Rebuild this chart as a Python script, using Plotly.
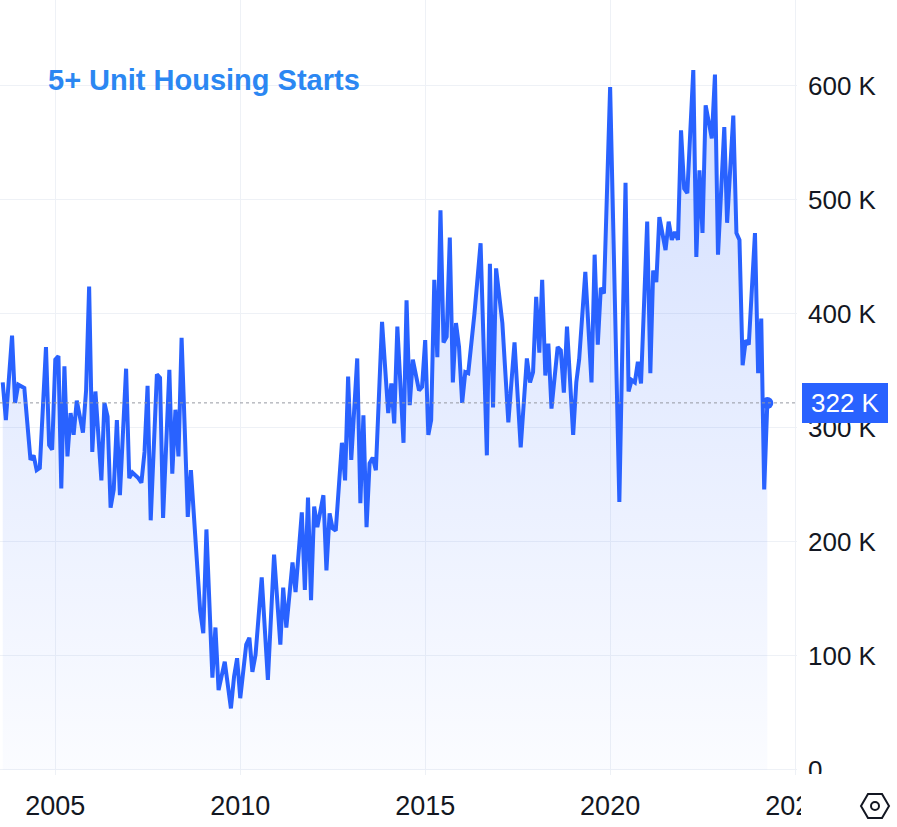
import plotly.graph_objects as go

# ---- data (thousands of units, SAAR) ----
dates = [
    "2003-08", "2003-09", "2003-11", "2003-12", "2004-01", "2004-03", "2004-05", "2004-06",
    "2004-07", "2004-08", "2004-10", "2004-11", "2004-12", "2005-01", "2005-02", "2005-03",
    "2005-04", "2005-05", "2005-06", "2005-07", "2005-08", "2005-10", "2005-11", "2005-12",
    "2006-01", "2006-02", "2006-04", "2006-05", "2006-06", "2006-07", "2006-08", "2006-09",
    "2006-10", "2006-12", "2007-01", "2007-02", "2007-04", "2007-05", "2007-06", "2007-07",
    "2007-08", "2007-10", "2007-11", "2007-12", "2008-02", "2008-03", "2008-04", "2008-05",
    "2008-06", "2008-08", "2008-09", "2008-12", "2009-01", "2009-02", "2009-04", "2009-05",
    "2009-06", "2009-08", "2009-10", "2009-11", "2009-12", "2010-01", "2010-03", "2010-04",
    "2010-05", "2010-06", "2010-08", "2010-10", "2010-12", "2011-02", "2011-03", "2011-04",
    "2011-06", "2011-07", "2011-09", "2011-10", "2011-11", "2011-12", "2012-01", "2012-02",
    "2012-04", "2012-05", "2012-06", "2012-07", "2012-08", "2012-10", "2012-11", "2012-12",
    "2013-01", "2013-03", "2013-04", "2013-05", "2013-06", "2013-07", "2013-08", "2013-09",
    "2013-11", "2014-01", "2014-02", "2014-03", "2014-04", "2014-06", "2014-07", "2014-08",
    "2014-09", "2014-11", "2014-12", "2015-01", "2015-02", "2015-03", "2015-04", "2015-05",
    "2015-06", "2015-07", "2015-08", "2015-09", "2015-10", "2015-11", "2015-12", "2016-01",
    "2016-02", "2016-03", "2016-05", "2016-07", "2016-09", "2016-10", "2016-11", "2016-12",
    "2017-02", "2017-04", "2017-06", "2017-08", "2017-10", "2017-11", "2017-12", "2018-01",
    "2018-02", "2018-03", "2018-04", "2018-05", "2018-06", "2018-08", "2018-09", "2018-10",
    "2018-11", "2019-01", "2019-02", "2019-03", "2019-05", "2019-07", "2019-08", "2019-09",
    "2019-10", "2019-11", "2020-01", "2020-02", "2020-03", "2020-04", "2020-06", "2020-07",
    "2020-08", "2020-09", "2020-10", "2020-11", "2021-01", "2021-02", "2021-03", "2021-04",
    "2021-05", "2021-07", "2021-08", "2021-09", "2021-10", "2021-11", "2021-12", "2022-01",
    "2022-02", "2022-04", "2022-05", "2022-06", "2022-07", "2022-08", "2022-10", "2022-11",
    "2022-12", "2023-02", "2023-03", "2023-05", "2023-06", "2023-07", "2023-08", "2023-09",
    "2023-10", "2023-12", "2024-01", "2024-02", "2024-03", "2024-04",
]
values = [
    340, 307, 381, 322, 338, 335, 272, 276,
    263, 265, 371, 285, 281, 360, 363, 247,
    354, 275, 313, 294, 324, 296, 333, 424,
    279, 332, 254, 322, 310, 230, 246, 307,
    241, 352, 256, 261, 256, 252, 279, 337,
    219, 347, 344, 221, 351, 260, 316, 275,
    379, 222, 263, 140, 120, 211, 81, 125,
    70, 95, 54, 82, 98, 63, 110, 116,
    86, 101, 169, 79, 189, 110, 160, 125,
    182, 156, 226, 158, 239, 149, 231, 213,
    241, 175, 225, 212, 210, 287, 254, 345,
    272, 361, 234, 311, 213, 269, 274, 263,
    393, 313, 339, 304, 389, 287, 412, 320,
    360, 333, 336, 377, 294, 307, 430, 362,
    491, 375, 380, 467, 340, 392, 371, 322,
    349, 348, 400, 462, 276, 444, 318, 440,
    392, 305, 375, 283, 361, 340, 349, 415,
    366, 430, 346, 374, 317, 371, 368, 331,
    389, 294, 340, 360, 437, 340, 452, 373,
    423, 418, 599, 470, 360, 235, 515, 332,
    342, 340, 358, 339, 481, 348, 438, 428,
    485, 456, 481, 465, 472, 465, 561, 510,
    506, 614, 450, 526, 471, 583, 554, 610,
    452, 564, 480, 574, 471, 465, 355, 377,
    373, 471, 348, 396, 246, 322,
]
x_tick_years = [2005, 2010, 2015, 2020, 2025]
y_tick_values = [0, 100, 200, 300, 400, 500, 600]
y_tick_labels = ["0", "100 K", "200 K", "300 K", "400 K", "500 K", "600 K"]
title_text = "5+ Unit Housing Starts"
last_label = "322 K"

# ---- layout geometry (pixels) ----
W, H = 897, 827
PLOT_R, PLOT_B = 797, 775
LINE_COLOR = "#2962FF"
FONT = "Liberation Sans, Arial, sans-serif"


def pxx(px):
    return px / PLOT_R


def pxy(py):
    return (PLOT_B - py) / PLOT_B


fig = go.Figure()
fig.add_trace(go.Scatter(
    x=dates, y=values, mode="lines",
    line=dict(color=LINE_COLOR, width=4),
    fill="tozeroy",
    fillgradient=dict(type="vertical",
                      colorscale=[[0, "rgba(41,98,255,0.02)"], [1, "rgba(41,98,255,0.21)"]],
                      start=0, stop=620),
    hoverinfo="skip", showlegend=False,
))
fig.add_trace(go.Scatter(
    x=[dates[-1]], y=[values[-1]], mode="markers",
    marker=dict(color=LINE_COLOR, size=12),
    hoverinfo="skip", showlegend=False,
))

shapes = [
    # dotted last-value line
    dict(type="line", xref="paper", yref="y", x0=0, x1=1, y0=values[-1], y1=values[-1],
         line=dict(color="#9598a1", width=1, dash="dot"), layer="above"),
    # last value badge
    dict(type="rect", xref="paper", yref="y", x0=pxx(802), x1=pxx(888),
         ysizemode="pixel", yanchor=values[-1], y0=-20, y1=20,
         fillcolor=LINE_COLOR, line=dict(width=0), layer="above"),
    # mask clipping the bottom-right corner
    dict(type="rect", xref="paper", yref="paper", x0=pxx(801), x1=pxx(897),
         y0=pxy(774), y1=pxy(827), fillcolor="white", line=dict(width=0), layer="above"),
    # settings hexagon icon
    dict(type="path", xref="paper", yref="paper",
         path="M {} {} L {} {} L {} {} L {} {} L {} {} L {} {} Z".format(
             pxx(861), pxy(806), pxx(868), pxy(794), pxx(882), pxy(794),
             pxx(889), pxy(806), pxx(882), pxy(818), pxx(868), pxy(818)),
         line=dict(color="#131722", width=2), fillcolor="white", layer="above"),
    dict(type="circle", xref="paper", yref="paper", x0=pxx(871), x1=pxx(879),
         y0=pxy(802), y1=pxy(810), line=dict(color="#131722", width=2), layer="above"),
]

annotations = [
    dict(text="<b>" + title_text + "</b>", xref="paper", yref="paper",
         x=pxx(46), y=pxy(80), xanchor="left", yanchor="middle", showarrow=False,
         font=dict(family=FONT, size=29, color="#2b87f2")),
    dict(text=last_label, xref="paper", yref="y", x=pxx(845), y=values[-1],
         xanchor="center", yanchor="middle", showarrow=False,
         font=dict(family=FONT, size=26, color="white")),
]

fig.update_layout(
    width=W, height=H,
    margin=dict(l=0, r=W - PLOT_R, t=0, b=H - PLOT_B, autoexpand=False),
    paper_bgcolor="white", plot_bgcolor="white",
    font=dict(family=FONT, color="#131722"),
    shapes=shapes, annotations=annotations,
    xaxis=dict(
        type="date", range=["2003-07-05", "2025-01-19"],
        tickvals=[f"{y}-01-01" for y in x_tick_years],
        ticktext=[str(y) for y in x_tick_years],
        showgrid=True, gridcolor="#eef1f6", gridwidth=1,
        zeroline=False, showline=False, ticks="",
        tickfont=dict(size=27, color="#131722"), ticklabelstandoff=12,
        fixedrange=True,
    ),
    yaxis=dict(
        side="right", range=[-4.4, 675.4],
        tickvals=y_tick_values, ticktext=y_tick_labels,
        showgrid=True, gridcolor="#eef1f6", gridwidth=1,
        zeroline=False, showline=False, ticks="",
        tickfont=dict(size=26, color="#131722"), ticklabelstandoff=10,
        fixedrange=True,
    ),
)

fig.write_html("out.html", config={"displayModeBar": False},
               post_script="document.body.style.margin='0';")
